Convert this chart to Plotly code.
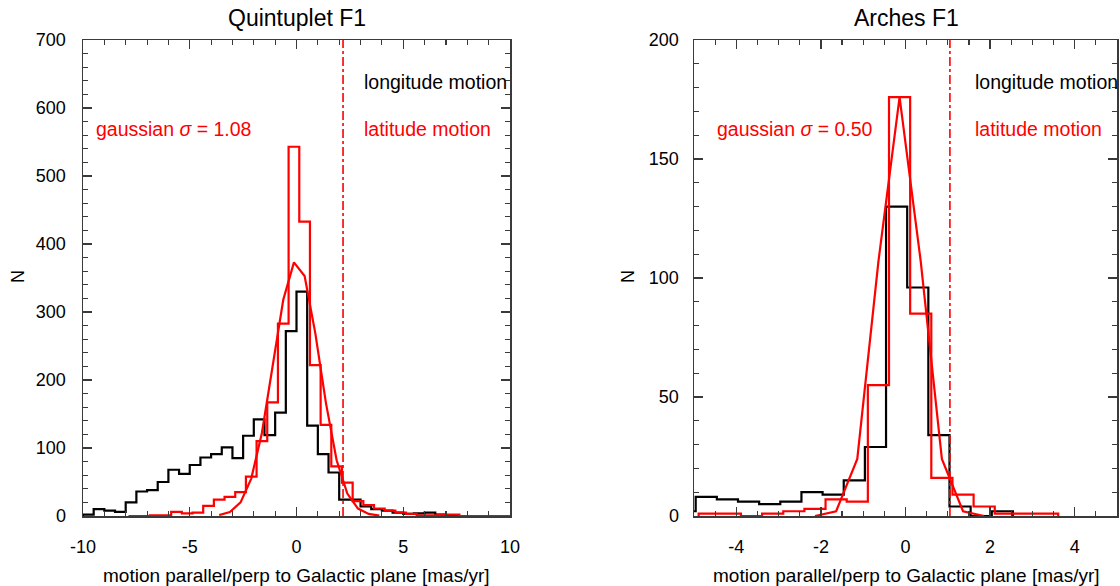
import numpy as np
import plotly.graph_objects as go

# ---------------- data ----------------
bin_width = 0.5

# Quintuplet F1 : longitude motion histogram (black)
q_lon_start = -10.0
q_lon_counts = [2, 10, 8, 6, 20, 36, 38, 50, 68, 62, 75, 86, 91, 101, 85, 118, 142, 119, 152, 272,
                330, 133, 91, 64, 24, 24, 14, 10, 8, 5, 3, 4, 5, 2, 1, 0]
# Quintuplet F1 : latitude motion histogram (red)
q_lat_start = -7.87
q_lat_counts = [0, 0, 1, 1, 6, 4, 5, 15, 24, 28, 35, 58, 110, 167, 283, 543, 433, 222, 134, 73,
                49, 22, 16, 11, 8, 5, 3, 1, 1, 2, 2, 0, 0, 0, 0, 0]
# Quintuplet F1 : gaussian fit (sigma = 1.08)
q_gauss_x = [-3.62, -3.12, -2.62, -2.12, -1.62, -1.12, -0.62, -0.12, 0.38, 0.88, 1.38, 1.88, 2.38, 2.88, 3.38, 3.88]
q_gauss_y = [1.4, 5.8, 20, 55, 122, 219, 318, 373, 353, 269, 166, 82, 33, 11, 3, 0.6]
q_sigma_label = "1.08"
q_cut = 2.18
q_xticks = [-10, -5, 0, 5, 10]
q_xticklabels = ["-10", "-5", "0", "5", "10"]

# Arches F1 : longitude motion histogram (black)
a_lon_start = -5.46
a_lon_counts = [2, 8, 7, 6, 5, 6, 10, 9, 15, 29, 130, 96, 34, 4, 0, 2]
# Arches F1 : latitude motion histogram (red)
a_lat_start = -4.89
a_lat_counts = [1, 1, 0, 1, 2, 3, 7, 6, 55, 176, 85, 16, 9, 4, 1, 1, 1]
# Arches F1 : gaussian fit (sigma = 0.50)
a_gauss_x = [-2.14, -1.64, -1.14, -0.64, -0.14, 0.36, 0.86, 1.36, 1.86]
a_gauss_y = [0, 2, 24, 107, 176, 107, 24, 2, 0]
a_sigma_label = "0.50"
a_cut = 1.05
a_xticks = [-4, -2, 0, 2, 4]
a_xticklabels = ["-4", "-2", "0", "2", "4"]

titles = ["Quintuplet F1", "Arches F1"]
x_title = "motion parallel/perp to Galactic plane [mas/yr]"
y_title = "N"

# ---------------- helpers ----------------
W, H = 1120, 586
RED = "#ff0000"
AXC = "#3a3a3a"
FONT = "Liberation Sans, Arial, Helvetica, sans-serif"


def step_xy(start, counts):
    edges = start + bin_width * np.arange(len(counts) + 1)
    xs = [edges[0]] + list(edges[:-1]) + [edges[-1]]
    ys = [0] + list(counts) + [0]
    return xs, ys


def px(x):
    return x / W


def py(y):
    return 1 - y / H


fig = go.Figure()

panels = [
    dict(xa="x", ya="y", lon=(q_lon_start, q_lon_counts), lat=(q_lat_start, q_lat_counts),
         gx=q_gauss_x, gy=q_gauss_y, cut=q_cut, ymax=700),
    dict(xa="x2", ya="y2", lon=(a_lon_start, a_lon_counts), lat=(a_lat_start, a_lat_counts),
         gx=a_gauss_x, gy=a_gauss_y, cut=a_cut, ymax=200),
]

for p in panels:
    xs, ys = step_xy(*p["lon"])
    fig.add_trace(go.Scatter(x=xs, y=ys, mode="lines", line=dict(color="black", width=2.2, shape="hv"),
                             xaxis=p["xa"], yaxis=p["ya"], showlegend=False, hoverinfo="skip"))
    xs, ys = step_xy(*p["lat"])
    fig.add_trace(go.Scatter(x=xs, y=ys, mode="lines", line=dict(color=RED, width=2.2, shape="hv"),
                             xaxis=p["xa"], yaxis=p["ya"], showlegend=False, hoverinfo="skip"))
    fig.add_trace(go.Scatter(x=p["gx"], y=p["gy"], mode="lines", line=dict(color=RED, width=2.2),
                             xaxis=p["xa"], yaxis=p["ya"], showlegend=False, hoverinfo="skip"))
    fig.add_trace(go.Scatter(x=[p["cut"], p["cut"]], y=[0, p["ymax"]], mode="lines",
                             line=dict(color=RED, width=1.6, dash="dashdot"),
                             xaxis=p["xa"], yaxis=p["ya"], showlegend=False, hoverinfo="skip"))

ydom = [70 / H, 546 / H]
x1dom = [83 / W, 510 / W]
x2dom = [694 / W, 1117 / W]


def axis_common():
    return dict(showline=True, linecolor=AXC, linewidth=1.5, mirror="ticks", ticks="inside",
                ticklen=9, tickwidth=1.3, tickcolor=AXC, showgrid=False, zeroline=False,
                automargin=False, tickfont=dict(family=FONT, size=18, color="black"))


xa1 = axis_common()
xa1.update(domain=x1dom, range=[-10, 10], tickmode="array", tickvals=q_xticks, ticktext=q_xticklabels,
           anchor="y", ticklabelstandoff=14,
           minor=dict(tickmode="linear", tick0=0, dtick=1, ticklen=5, ticks="inside", tickcolor=AXC, tickwidth=1.1))
xa2 = axis_common()
xa2.update(domain=x2dom, range=[-5, 5], tickmode="array", tickvals=a_xticks, ticktext=a_xticklabels,
           anchor="y2", ticklabelstandoff=14,
           minor=dict(tickmode="linear", tick0=0, dtick=0.5, ticklen=5, ticks="inside", tickcolor=AXC, tickwidth=1.1))
ya1 = axis_common()
ya1.update(domain=ydom, range=[0, 700], tick0=0, dtick=100, anchor="x", ticklabelstandoff=12,
           minor=dict(dtick=20, ticklen=5, ticks="inside", tickcolor=AXC, tickwidth=1.1))
ya2 = axis_common()
ya2.update(domain=ydom, range=[0, 200], tick0=0, dtick=50, anchor="x2", ticklabelstandoff=10,
           minor=dict(dtick=10, ticklen=5, ticks="inside", tickcolor=AXC, tickwidth=1.1))

fig.update_layout(xaxis=xa1, xaxis2=xa2, yaxis=ya1, yaxis2=ya2)

ann = []
centers = [296.5, 906]
for i, cx in enumerate(centers):
    ann.append(dict(x=px(cx), y=py(18), text=titles[i], font=dict(family=FONT, size=23, color="black")))
    ann.append(dict(x=px(cx), y=py(575), text=x_title, font=dict(family=FONT, size=19, color="black")))
for xx in [18, 628]:
    ann.append(dict(x=px(xx), y=py(277), text=y_title, textangle=-90,
                    font=dict(family=FONT, size=18, color="black")))
for a in ann:
    a.update(xref="paper", yref="paper", showarrow=False, xanchor="center", yanchor="middle")

txt = [
    (362, 82, "longitude motion", "black"),
    (362, 129, "latitude motion", RED),
    (94, 129, "gaussian <i>σ</i> = " + q_sigma_label, RED),
    (973, 82, "longitude motion", "black"),
    (973, 129, "latitude motion", RED),
    (715, 129, "gaussian <i>σ</i> = " + a_sigma_label, RED),
]
for x, y, t, c in txt:
    ann.append(dict(x=px(x), y=py(y), xref="paper", yref="paper", text=t, showarrow=False,
                    xanchor="left", yanchor="middle", font=dict(family=FONT, size=19.5, color=c)))

fig.update_layout(width=W, height=H, margin=dict(l=0, r=0, t=0, b=0, autoexpand=False), paper_bgcolor="white",
                  plot_bgcolor="white", annotations=ann, showlegend=False)

fig.write_html("out.html", config={"displayModeBar": False, "staticPlot": True},
               post_script="document.body.style.margin='0';document.body.style.padding='0';"
                           "document.documentElement.style.overflow='hidden';")
